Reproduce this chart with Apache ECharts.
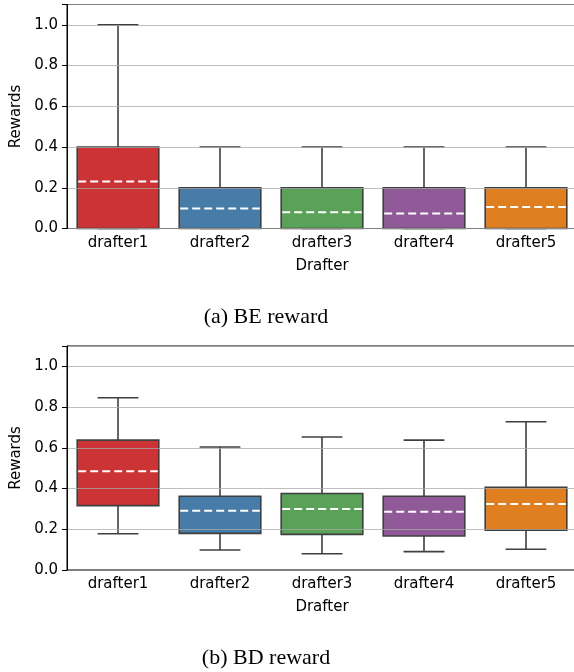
<!DOCTYPE html>
<html>
<head>
<meta charset="utf-8">
<script src="https://cdn.jsdelivr.net/npm/echarts@6/dist/echarts.min.js"></script>
<style>
  html, body { margin: 0; padding: 0; background: #fff; }
  #main { width: 574px; height: 672px; }
</style>
</head>
<body>
<div id="main"></div>
<script>
// drafters and their colors
var drafters = ['drafter1', 'drafter2', 'drafter3', 'drafter4', 'drafter5'];
var colors = ['#cb3335', '#477ca8', '#59a257', '#905998', '#df7f20'];
var yTicks = [0, 0.2, 0.4, 0.6, 0.8, 1.0];

// (a) BE reward
var beMin = [0, 0, 0, 0, 0];
var beQ1 = [0, 0, 0, 0, 0];
var beQ3 = [0.4, 0.2, 0.2, 0.2, 0.2];
var beMax = [1.0, 0.4, 0.4, 0.4, 0.4];
var beMean = [0.231, 0.098, 0.080, 0.074, 0.105];

// (b) BD reward
var bdMin = [0.178, 0.098, 0.080, 0.090, 0.102];
var bdQ1 = [0.316, 0.180, 0.175, 0.167, 0.196];
var bdQ3 = [0.638, 0.362, 0.376, 0.362, 0.406];
var bdMax = [0.846, 0.604, 0.653, 0.638, 0.728];
var bdMean = [0.485, 0.291, 0.299, 0.286, 0.324];

var font = 'DejaVu Sans';
var edge = '#3f3f3f';

function rows(mn, q1, q3, mx, mean) {
    return drafters.map(function (d, i) {
        return [i, mn[i], q1[i], q3[i], mx[i], mean[i]];
    });
}

function renderBox(params, api) {
    var i = api.value(0);
    var band = api.size([1, 0])[0];
    var w = band * 0.8;
    var cx = api.coord([i, 0])[0];
    var yMin = api.coord([i, api.value(1)])[1];
    var yQ1 = api.coord([i, api.value(2)])[1];
    var yQ3 = api.coord([i, api.value(3)])[1];
    var yMax = api.coord([i, api.value(4)])[1];
    var yMean = api.coord([i, api.value(5)])[1];
    var cap = w * 0.25;
    var ls = {stroke: edge, lineWidth: 1.6};
    return {
        type: 'group',
        children: [
            {type: 'line', shape: {x1: cx, y1: yQ3, x2: cx, y2: yMax}, style: ls},
            {type: 'line', shape: {x1: cx, y1: yQ1, x2: cx, y2: yMin}, style: ls},
            {type: 'line', shape: {x1: cx - cap, y1: yMax, x2: cx + cap, y2: yMax}, style: ls},
            {type: 'line', shape: {x1: cx - cap, y1: yMin, x2: cx + cap, y2: yMin}, style: ls},
            {
                type: 'rect',
                shape: {x: cx - w / 2, y: yQ3, width: w, height: yQ1 - yQ3},
                style: {fill: colors[i], stroke: edge, lineWidth: 1.6}
            },
            {
                type: 'line',
                shape: {x1: cx - w / 2 + 1, y1: yMean, x2: cx + w / 2 - 1, y2: yMean},
                style: {stroke: '#fff', lineWidth: 2, lineDash: [8, 4]}
            }
        ]
    };
}

function xAxisOf(g) {
    return {
        type: 'category',
        gridIndex: g,
        data: drafters,
        name: 'Drafter',
        nameLocation: 'middle',
        nameGap: 30,
        nameTextStyle: {fontFamily: font, fontSize: 15, color: '#000'},
        axisLine: {lineStyle: {color: '#000', width: 1}},
        axisTick: {alignWithLabel: true, length: 5, lineStyle: {color: '#000'}},
        axisLabel: {fontFamily: font, fontSize: 15, color: '#000', margin: 7},
        splitLine: {show: false}
    };
}

function yAxisOf(g) {
    return {
        type: 'value',
        gridIndex: g,
        min: 0,
        max: 1.1,
        interval: 0.2,
        z: 5,
        name: 'Rewards',
        nameLocation: 'middle',
        nameGap: 40,
        nameTextStyle: {fontFamily: font, fontSize: 15, color: '#000'},
        axisLine: {show: true, lineStyle: {color: '#000', width: 1}},
        axisTick: {show: true, length: 5, lineStyle: {color: '#000'}},
        axisLabel: {
            fontFamily: font, fontSize: 15, color: '#000', margin: 9,
            formatter: function (v) { return yTicks.indexOf(Math.round(v * 10) / 10) > -1 && v < 1.05 ? v.toFixed(1) : ''; }
        },
        splitLine: {show: true, lineStyle: {color: 'rgba(170,170,170,0.75)', width: 1.2}}
    };
}

var chart = echarts.init(document.getElementById('main'), null, {renderer: 'canvas'});
chart.setOption({
    backgroundColor: '#fff',
    animation: false,
    grid: [
        {left: 67, top: 4.5, width: 510, height: 224, outerBoundsMode: 'none', show: true, borderColor: '#000', borderWidth: 1},
        {left: 67, top: 346, width: 510, height: 224, outerBoundsMode: 'none', show: true, borderColor: '#000', borderWidth: 1}
    ],
    xAxis: [xAxisOf(0), xAxisOf(1)],
    yAxis: [yAxisOf(0), yAxisOf(1)],
    graphic: [
        {type: 'text', x: 266, y: 317, style: {text: '(a) BE reward', font: '22px "Liberation Serif"', fill: '#000', align: 'center', verticalAlign: 'middle'}},
        {type: 'text', x: 266, y: 658, style: {text: '(b) BD reward', font: '22px "Liberation Serif"', fill: '#000', align: 'center', verticalAlign: 'middle'}}
    ],
    series: [
        {type: 'custom', xAxisIndex: 0, yAxisIndex: 0, z: 2, renderItem: renderBox, data: rows(beMin, beQ1, beQ3, beMax, beMean)},
        {type: 'custom', xAxisIndex: 1, yAxisIndex: 1, z: 2, renderItem: renderBox, data: rows(bdMin, bdQ1, bdQ3, bdMax, bdMean)}
    ]
});
</script>
</body>
</html>
